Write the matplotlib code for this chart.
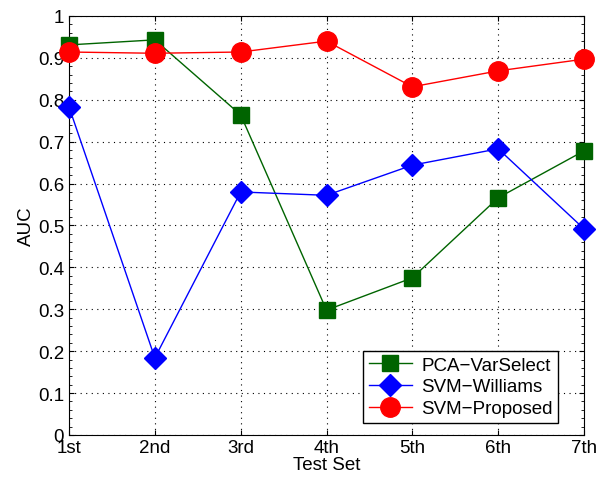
import matplotlib.pyplot as plt
from matplotlib.ticker import MultipleLocator

plt.rcParams['font.family'] = ['Liberation Sans', 'DejaVu Sans']

test_sets = ['1st', '2nd', '3rd', '4th', '5th', '6th', '7th']
pca_varselect = [0.931, 0.943, 0.764, 0.298, 0.375, 0.566, 0.678]
svm_williams = [0.783, 0.184, 0.580, 0.572, 0.644, 0.683, 0.492]
svm_proposed = [0.914, 0.911, 0.914, 0.940, 0.831, 0.869, 0.897]

x = list(range(1, len(test_sets) + 1))

fig = plt.figure(figsize=(5.98, 4.81), dpi=100)
ax = fig.add_axes([0.1154, 0.0936, 0.8612, 0.8711])

ax.plot(x, pca_varselect, '-s', color='#006400', lw=1, ms=11, label='PCA\u2212VarSelect', clip_on=False, zorder=3)
ax.plot(x, svm_williams, '-D', color='#0000ff', lw=1, ms=11, label='SVM\u2212Williams', clip_on=False, zorder=3)
ax.plot(x, svm_proposed, '-o', color='#ff0000', lw=1, ms=14, label='SVM\u2212Proposed', clip_on=False, zorder=3)

ax.set_xlim(1, 7)
ax.set_ylim(0, 1)
ax.set_xticks(x)
ax.set_xticklabels(test_sets)
ax.set_yticks([i / 10 for i in range(11)])
ax.set_yticklabels(['0'] + ['%.1f' % (i / 10) for i in range(1, 10)] + ['1'])
ax.yaxis.set_minor_locator(MultipleLocator(0.02))
ax.tick_params(which='both', direction='in', labelsize=13.5, top=True, right=True)
ax.tick_params(which='minor', length=2)
ax.tick_params(axis='x', pad=3)
ax.grid(True, linestyle=(0, (1, 4)), color='black', lw=0.8)
ax.set_xlabel('Test Set', fontsize=13.5, labelpad=0)
ax.set_ylabel('AUC', fontsize=13.5, labelpad=2)

leg = ax.legend(loc='lower right', bbox_to_anchor=(0.95, 0.029), fontsize=13.5,
                fancybox=False, edgecolor='black', framealpha=1,
                handlelength=2.3, borderaxespad=0, labelspacing=0.25,
                borderpad=0.3, handletextpad=0.5)
leg.get_frame().set_linewidth(1)

plt.savefig('out.png')
